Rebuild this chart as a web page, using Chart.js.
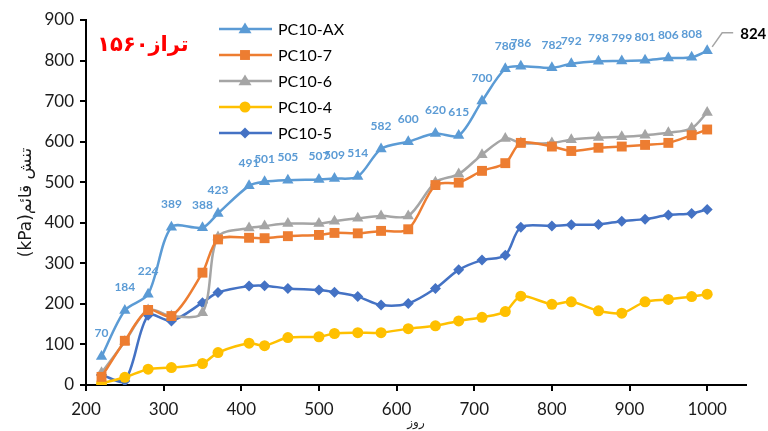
<!DOCTYPE html>
<html>
<head>
<meta charset="utf-8">
<script src="https://cdn.jsdelivr.net/npm/chart.js@4/dist/chart.umd.min.js"></script>
<style>
  html, body { margin: 0; padding: 0; background: #fff; }
  #wrap { width: 768px; height: 431px; }
</style>
</head>
<body>
<div id="wrap"><canvas id="chart" width="768" height="431"></canvas></div>
<script>
// days (x values shared by every series)
const days = [220, 250, 280, 310, 350, 370, 410, 430, 460, 500, 520, 550, 580, 615, 650, 680, 710, 740, 760, 800, 825, 860, 890, 920, 950, 980, 1000];
const xTicks = [200, 300, 400, 500, 600, 700, 800, 900, 1000];

const seriesNames = ['PC10-AX', 'PC10-7', 'PC10-6', 'PC10-4', 'PC10-5'];
const pcAX = [70, 184, 224, 389, 388, 423, 491, 501, 505, 507, 509, 514, 582, 600, 620, 615, 700, 780, 786, 782, 792, 798, 799, 801, 806, 808, 824];
const pc7 = [20, 109, 185, 170, 277, 359, 363, 362, 367, 370, 375, 374, 380, 384, 493, 499, 528, 547, 597, 588, 577, 585, 588, 592, 597, 616, 630];
const pc6 = [30, 107, 185, 170, 178, 365, 387, 392, 398, 398, 404, 411, 417, 417, 500, 520, 568, 608, 597, 597, 605, 610, 612, 616, 622, 633, 672];
const pc4 = [4, 19, 39, 43, 53, 80, 103, 97, 117, 119, 127, 129, 129, 139, 146, 158, 167, 181, 219, 199, 205, 183, 177, 205, 211, 218, 224];
const pc5 = [25, 10, 172, 158, 203, 228, 244, 245, 238, 234, 229, 218, 197, 201, 238, 284, 308, 320, 389, 392, 395, 396, 404, 409, 419, 423, 433];

const colors = ['#5B9BD5', '#ED7D31', '#A5A5A5', '#FFC000', '#4472C4'];
const markers = ['triangle', 'rect', 'triangle', 'circle', 'rectRot'];
const markerSize = [6.5, 7, 6.5, 5.5, 5.5];

const levelTitle = 'تراز۱۵۶۰';
const yTitle = '(kPa)تنش قائم';
const xTitle = 'روز';

const toPoints = vals => vals.map((v, i) => ({ x: days[i], y: v }));
const allValues = [pcAX, pc7, pc6, pc4, pc5];

const datasets = allValues.map((vals, i) => ({
    label: seriesNames[i],
    data: toPoints(vals),
    borderColor: colors[i],
    backgroundColor: colors[i],
    borderWidth: 2.5,
    pointStyle: markers[i],
    pointRadius: markerSize[i],
    pointBorderWidth: 0,
    pointHoverRadius: markerSize[i],
    tension: 0.3,
    order: i
}));

// draw a legend marker by hand
function marker(ctx, style, x, y, r) {
    ctx.beginPath();
    if (style === 'triangle') {
        const h = r * 1.5;
        ctx.moveTo(x, y - h * 0.66);
        ctx.lineTo(x + r, y + h * 0.34 + 1);
        ctx.lineTo(x - r, y + h * 0.34 + 1);
        ctx.closePath();
    } else if (style === 'rect') {
        const s = r * Math.SQRT1_2;
        ctx.rect(x - s, y - s, 2 * s, 2 * s);
    } else if (style === 'rectRot') {
        ctx.moveTo(x, y - r); ctx.lineTo(x + r, y); ctx.lineTo(x, y + r); ctx.lineTo(x - r, y);
        ctx.closePath();
    } else {
        ctx.arc(x, y, r, 0, Math.PI * 2);
    }
    ctx.fill();
}

const extras = {
    id: 'extras',
    afterDatasetsDraw(chart) {
        const ctx = chart.ctx;
        const meta = chart.getDatasetMeta(0);
        ctx.save();
        // value labels of PC10-AX
        ctx.font = 'bold 12px Lato';
        ctx.fillStyle = colors[0];
        ctx.textAlign = 'center';
        ctx.textBaseline = 'middle';
        meta.data.forEach((p, i) => {
            if (i === meta.data.length - 1) return;
            ctx.fillText(String(pcAX[i]), p.x, p.y - 23);
        });
        // last value with leader line
        const last = meta.data[meta.data.length - 1];
        ctx.strokeStyle = '#A5A5A5';
        ctx.lineWidth = 1.5;
        ctx.beginPath();
        ctx.moveTo(last.x + 5, last.y - 4);
        ctx.lineTo(last.x + 15, last.y - 18);
        ctx.lineTo(last.x + 26, last.y - 18);
        ctx.stroke();
        ctx.font = 'bold 15px Lato';
        ctx.fillStyle = '#000';
        ctx.textAlign = 'left';
        ctx.fillText(String(pcAX[pcAX.length - 1]), last.x + 33, last.y - 17);

        // legend
        ctx.font = '16px Lato';
        seriesNames.forEach((name, i) => {
            const y = 29 + i * 26;
            ctx.strokeStyle = colors[i];
            ctx.fillStyle = colors[i];
            ctx.lineWidth = 2.5;
            ctx.beginPath();
            ctx.moveTo(219, y);
            ctx.lineTo(272, y);
            ctx.stroke();
            marker(ctx, markers[i], 245, y, markerSize[i]);
            ctx.fillStyle = '#000';
            ctx.textAlign = 'left';
            ctx.fillText(name, 278, y + 1);
        });

        // level title
        ctx.font = 'bold 21px "DejaVu Sans"';
        ctx.fillStyle = '#FF0000';
        ctx.textAlign = 'center';
        ctx.direction = 'rtl';
        ctx.fillText(levelTitle, 143, 46);
        ctx.restore();
    }
};

new Chart(document.getElementById('chart'), {
    type: 'line',
    data: { datasets: datasets },
    plugins: [extras],
    options: {
        responsive: false,
        animation: false,
        layout: { padding: { top: 20, right: 22, left: 0, bottom: 0 } },
        plugins: {
            legend: { display: false },
            tooltip: { enabled: false }
        },
        scales: {
            x: {
                type: 'linear',
                min: 200,
                max: 1050,
                afterBuildTicks: s => { s.ticks = xTicks.map(v => ({ value: v })); },
                afterFit: s => { s.height = 46; },
                border: { color: '#000', width: 2 },
                grid: { drawOnChartArea: false, drawTicks: true, tickLength: 6, color: '#000', lineWidth: 2 },
                ticks: { color: '#1a1a1a', font: { size: 17, family: 'Lato' }, padding: 8, maxRotation: 0, callback: v => String(v) },
                title: { display: true, text: xTitle, color: '#222', font: { size: 12, family: 'DejaVu Sans' }, padding: { top: -8, bottom: 1 } }
            },
            y: {
                min: 0,
                max: 900,
                afterFit: s => { s.width = 86; },
                border: { color: '#000', width: 2 },
                grid: { drawOnChartArea: false, drawTicks: true, tickLength: 6, color: '#000', lineWidth: 2 },
                ticks: { stepSize: 100, color: '#1a1a1a', font: { size: 17, family: 'Lato' }, padding: 6, callback: v => String(v) },
                title: { display: true, text: yTitle, color: '#1a1a1a', font: { size: 17, family: 'DejaVu Sans' }, padding: { top: 16, bottom: 0 } }
            }
        }
    }
});
</script>
</body>
</html>
